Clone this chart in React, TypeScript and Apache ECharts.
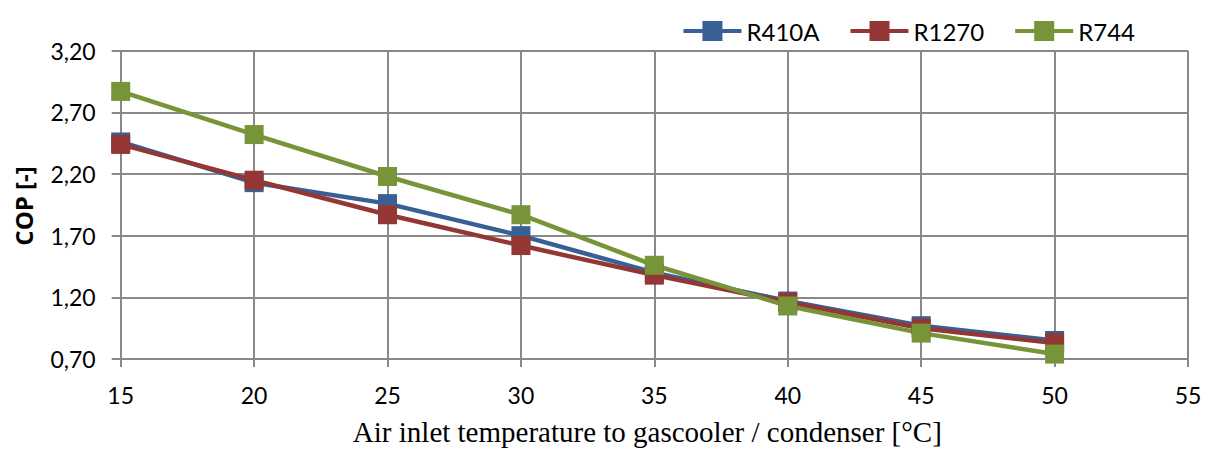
import React, { useEffect, useRef } from "react";
import * as echarts from "echarts";

const temperatures = [15, 20, 25, 30, 35, 40, 45, 50];
const r410a = [2.46, 2.13, 1.96, 1.7, 1.4, 1.17, 0.97, 0.85];
const r1270 = [2.44, 2.15, 1.87, 1.62, 1.38, 1.16, 0.95, 0.83];
const r744 = [2.87, 2.52, 2.18, 1.87, 1.46, 1.13, 0.91, 0.74];
const yTicks = [0.7, 1.2, 1.7, 2.2, 2.7, 3.2];
const xTicks = [15, 20, 25, 30, 35, 40, 45, 50, 55];
const yTitle = "COP [-]";
const xTitle = "Air inlet temperature to gascooler / condenser [°C]";

const seriesDefs = [
  { name: "R410A", values: r410a, color: "#386095" },
  { name: "R1270", values: r1270, color: "#943634" },
  { name: "R744", values: r744, color: "#779438" },
];

const sansFont = "Lato, 'Open Sans', sans-serif";

export default function App() {
  const ref = useRef<HTMLDivElement>(null);
  useEffect(() => {
    document.body.style.margin = "0";
    const chart = echarts.init(ref.current!, null, { renderer: "svg" });
    const gray = "#898989";
    chart.setOption({
      animation: false,
      backgroundColor: "#ffffff",
      grid: { left: 120.7, right: 21, top: 50.7, bottom: 89.3, containLabel: false },
      legend: {
        right: 69,
        top: 14,
        itemWidth: 58,
        itemHeight: 25,
        itemGap: 29,
        lineStyle: { width: 4 },
        textStyle: { fontFamily: sansFont, fontSize: 24, color: "#000" },
        data: seriesDefs.map((s) => s.name),
      },
      graphic: [
        {
          type: "text",
          x: 23,
          y: 206,
          rotation: Math.PI / 2,
          style: {
            text: yTitle,
            fontFamily: "Open Sans",
            fontSize: 24,
            fontWeight: "bold",
            fill: "#000",
            align: "center",
            verticalAlign: "middle",
          },
        },
      ],
      xAxis: {
        type: "value",
        min: xTicks[0],
        max: xTicks[xTicks.length - 1],
        interval: 5,
        name: xTitle,
        nameLocation: "middle",
        nameGap: 58,
        nameTextStyle: {
          fontFamily: "'Liberation Serif', serif",
          fontSize: 29,
          color: "#000",
          verticalAlign: "top",
          padding: [0, 14, 0, 0],
        },
        axisLine: { show: true, lineStyle: { color: gray, width: 2 } },
        axisTick: { show: true, length: 8, lineStyle: { color: gray, width: 2 } },
        axisLabel: { fontFamily: sansFont, fontSize: 23, color: "#000", margin: 24 },
        splitLine: { show: true, lineStyle: { color: gray, width: 2 } },
      },
      yAxis: {
        type: "value",
        min: yTicks[0],
        max: yTicks[yTicks.length - 1],
        axisLine: { show: true, lineStyle: { color: gray, width: 2 } },
        axisTick: { show: true, length: 9, customValues: yTicks, lineStyle: { color: gray, width: 2 } },
        axisLabel: {
          customValues: yTicks,
          fontFamily: sansFont,
          fontSize: 23,
          color: "#000",
          margin: 25,
          formatter: (v: number) => v.toFixed(2).replace(".", ","),
        },
        splitLine: { show: true, lineStyle: { color: gray, width: 2 } },
      },
      series: seriesDefs.map((s) => ({
        name: s.name,
        type: "line",
        data: temperatures.map((t, i) => [t, s.values[i]]),
        symbol: "rect",
        symbolSize: 19,
        itemStyle: { color: s.color },
        lineStyle: { color: s.color, width: 4.5 },
      })),
    });
    return () => chart.dispose();
  }, []);
  return <div ref={ref} style={{ width: 1209, height: 451 }} />;
}
